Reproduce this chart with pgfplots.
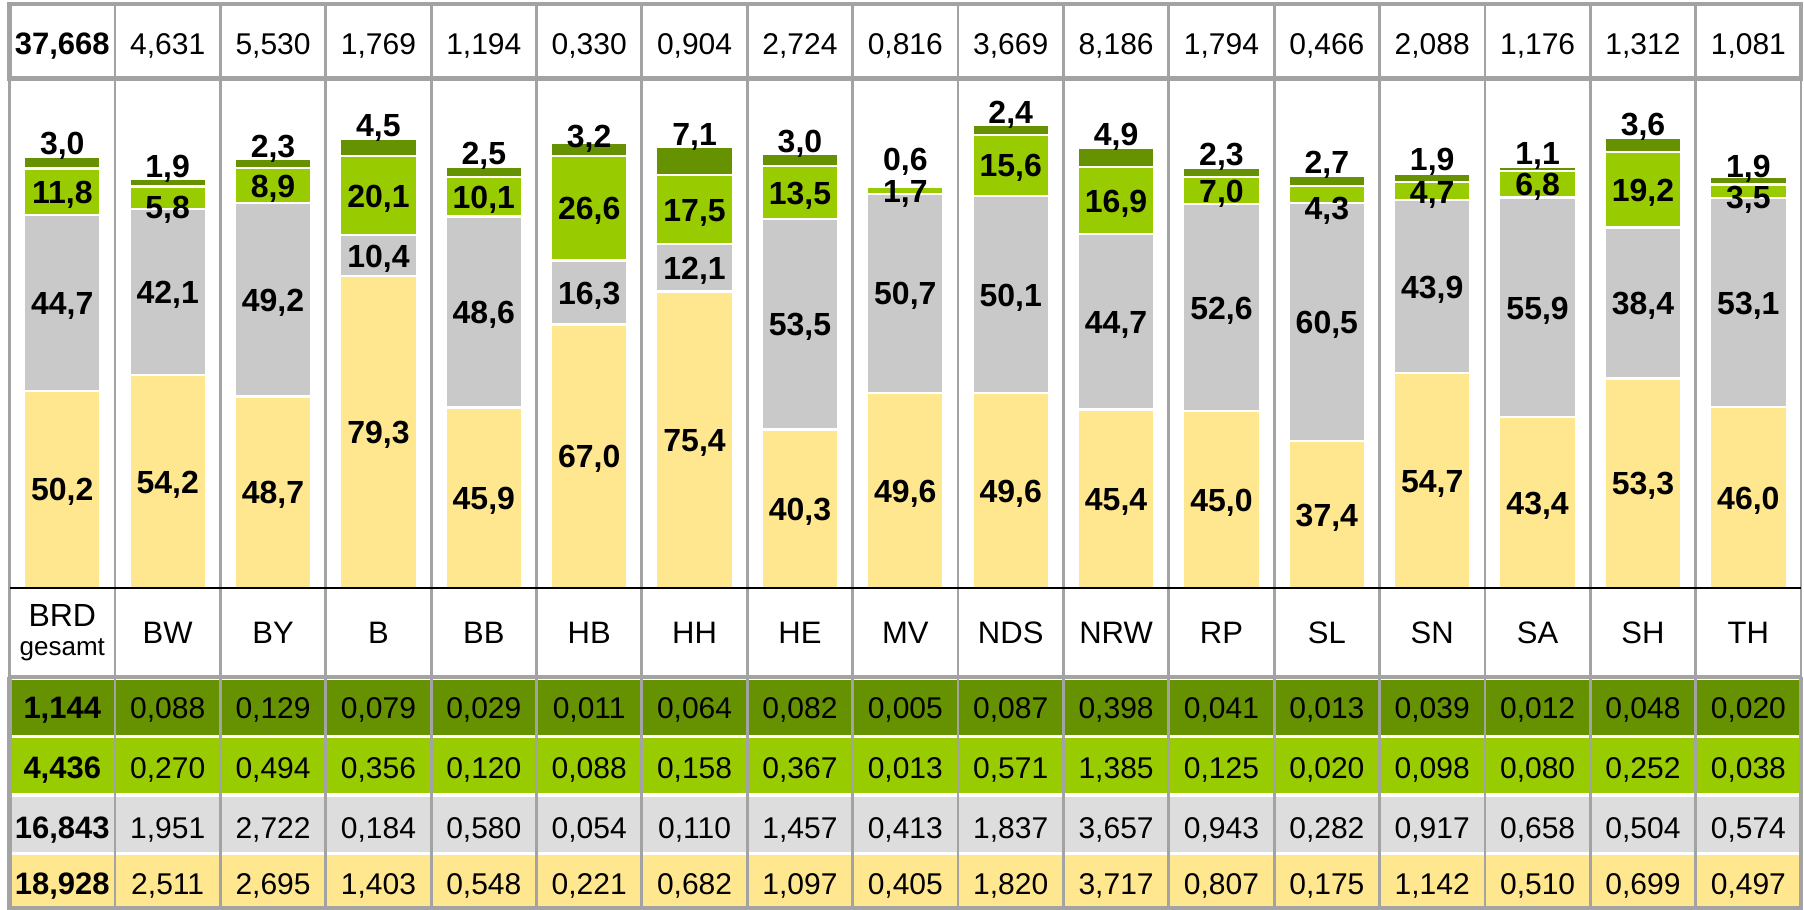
\documentclass[border=0pt]{standalone}
\usepackage{fontspec}
\setmainfont{Liberation Sans}
\usepackage{pgfplots}
\usepackage{pgfplotstable}
\pgfplotsset{compat=1.18}
\definecolor{cye}{HTML}{FFE78F}
\definecolor{cgr}{HTML}{C9C9C9}
\definecolor{clg}{HTML}{99CC00}
\definecolor{cdg}{HTML}{669100}
\definecolor{tgr}{HTML}{DDDDDD}
\definecolor{cline}{HTML}{A3A3A3}

\pgfplotstableread{
x lab tot dgA lgA grA yeA ye gr lg dg lgoff dgoff
0 {} 37.668 1.144 4.436 16.843 18.928 50.2 44.7 11.8 3.0 0 0
1 BW 4.631 0.088 0.270 1.951 2.511 54.2 42.1 5.8 1.9 -9 0
2 BY 5.530 0.129 0.494 2.722 2.695 48.7 49.2 8.9 2.3 0 0
3 B 1.769 0.079 0.356 0.184 1.403 79.3 10.4 20.1 4.5 0 0
4 BB 1.194 0.029 0.120 0.580 0.548 45.9 48.6 10.1 2.5 0 0
5 HB 0.330 0.011 0.088 0.054 0.221 67.0 16.3 26.6 3.2 0 -6
6 HH 0.904 0.064 0.158 0.110 0.682 75.4 12.1 17.5 7.1 0 0
7 HE 2.724 0.082 0.367 1.457 1.097 40.3 53.5 13.5 3.0 0 0
8 MV 0.816 0.005 0.013 0.413 0.405 49.6 50.7 1.7 0.6 -1 12
9 NDS 3.669 0.087 0.571 1.837 1.820 49.6 50.1 15.6 2.4 0 0
10 NRW 8.186 0.398 1.385 3.657 3.717 45.4 44.7 16.9 4.9 0 0
11 RP 1.794 0.041 0.125 0.943 0.807 45.0 52.6 7.0 2.3 0 0
12 SL 0.466 0.013 0.020 0.282 0.175 37.4 60.5 4.3 2.7 -13 0
13 SN 2.088 0.039 0.098 0.917 1.142 54.7 43.9 4.7 1.9 -1 2
14 SA 1.176 0.012 0.080 0.658 0.510 43.4 55.9 6.8 1.1 0 0
15 SH 1.312 0.048 0.252 0.504 0.699 53.3 38.4 19.2 3.6 0 0
16 TH 1.081 0.020 0.038 0.574 0.497 46.0 53.1 3.5 1.9 -5 -2
}\data

\pgfplotsset{
  myax/.style={scale only axis, width=902pt, height=455pt,
    xmin=-0.5911, xmax=16.528, ymin=-81.89, ymax=149.54,
    hide axis, clip=false},
  numfmt3/.style={nodes near coords={\pgfmathprintnumber[fixed,fixed zerofill,precision=3,use comma,assume math mode=true]{\pgfplotspointmeta}}},
  numfmt1/.style={nodes near coords={\pgfmathprintnumber[fixed,fixed zerofill,precision=1,use comma,assume math mode=true]{\pgfplotspointmeta}}},
  tabrow/.style={draw=none, mark=none, numfmt3, point meta=explicit,
    skip coords between index={0}{1},
    nodes near coords style={anchor=base, inner sep=0pt, text=black,
      font=\fontsize{15}{18}\selectfont}},
  tabrowb/.style={draw=none, mark=none, numfmt3, point meta=explicit,
    skip coords between index={1}{17},
    nodes near coords style={anchor=base, inner sep=0pt, text=black,
      font=\fontsize{15.5}{18}\selectfont\bfseries}},
  barlab/.style={draw=none, mark=none, numfmt1, point meta=explicit,
    nodes near coords style={anchor=base, inner sep=0pt, yshift=-5.8pt, text=black,
      font=\fontsize{16}{18}\selectfont\bfseries}},
}

\begin{document}
\begin{tikzpicture}
% bars
\begin{axis}[myax, name=ax, ybar stacked, bar width=0.726]
\addplot[fill=cye, draw=white, line width=1.1pt] table[x=x, y=ye]{\data};
\addplot[fill=cgr, draw=white, line width=1.1pt] table[x=x, y=gr]{\data};
\addplot[fill=clg, draw=white, line width=1.1pt] table[x=x, y=lg]{\data};
\addplot[fill=cdg, draw=white, line width=1.1pt] table[x=x, y=dg]{\data};
\end{axis}
% table parts, lines and labels
\begin{axis}[myax]
\fill[cdg] (axis cs:-0.5,-23.40) rectangle (axis cs:16.5,-37.39);
\fill[clg] (axis cs:-0.5,-38.15) rectangle (axis cs:16.5,-52.14);
\fill[tgr] (axis cs:-0.5,-53.15) rectangle (axis cs:16.5,-67.14);
\fill[cye] (axis cs:-0.5,-67.90) rectangle (axis cs:16.5,-81.89);
\pgfplotsinvokeforeach{-0.5,0.5,...,16.5}{
  \draw[cline, line width=1.4pt] (axis cs:#1,148.52) -- (axis cs:#1,-81.89);
}
\draw[cline, line width=2.2pt] (axis cs:-0.5,148.52) rectangle (axis cs:16.5,129.58);
\draw[cline, line width=2.2pt] (axis cs:-0.5,-22.63) -- (axis cs:16.5,-22.63);
\draw[cline, line width=2.4pt] (axis cs:-0.5,-22.63) -- (axis cs:-0.5,-81.89);
\draw[cline, line width=2.4pt] (axis cs:16.5,-22.63) -- (axis cs:16.5,-81.89);
\draw[cline, line width=2.4pt] (axis cs:-0.5,-81.5) -- (axis cs:16.5,-81.5);
\draw[black, line width=1.2pt] (axis cs:-0.5,0) -- (axis cs:16.5,0);
% top row totals
\addplot[tabrow] table[x=x, y expr=135.73, meta=tot]{\data};
\addplot[tabrowb] table[x=x, y expr=135.73, meta=tot]{\data};
% category names
\addplot[draw=none, mark=none, nodes near coords, point meta=explicit symbolic,
  skip coords between index={0}{1},
  nodes near coords style={anchor=base, inner sep=0pt, text=black, font=\fontsize{15.5}{18}\selectfont}]
  table[x=x, y expr=-13.99, meta=lab]{\data};
\node[anchor=base, inner sep=0pt, font=\fontsize{16}{18}\selectfont] at (axis cs:0,-9.84) {BRD};
\node[anchor=base, inner sep=0pt, font=\fontsize{13}{15}\selectfont] at (axis cs:0,-17.29) {gesamt};
% bottom table
\addplot[tabrow] table[x=x, y expr=-33.1, meta=dgA]{\data};
\addplot[tabrowb] table[x=x, y expr=-33.1, meta=dgA]{\data};
\addplot[tabrow] table[x=x, y expr=-48.4, meta=lgA]{\data};
\addplot[tabrowb] table[x=x, y expr=-48.4, meta=lgA]{\data};
\addplot[tabrow] table[x=x, y expr=-63.6, meta=grA]{\data};
\addplot[tabrowb] table[x=x, y expr=-63.6, meta=grA]{\data};
\addplot[tabrow] table[x=x, y expr=-78.0, meta=yeA]{\data};
\addplot[tabrowb] table[x=x, y expr=-78.0, meta=yeA]{\data};
% bar labels
\addplot[barlab] table[x=x, y expr=\thisrow{ye}/2, meta=ye]{\data};
\addplot[barlab] table[x=x, y expr=\thisrow{ye}+\thisrow{gr}/2, meta=gr]{\data};
\addplot[barlab] table[x=x, y expr=\thisrow{ye}+\thisrow{gr}+\thisrow{lg}/2+\thisrow{lgoff}/3.932, meta=lg]{\data};
\addplot[barlab, nodes near coords style={yshift=5.8pt}] table[x=x, y expr=\thisrow{ye}+\thisrow{gr}+\thisrow{lg}+\thisrow{dg}+(\thisrow{dgoff}+2)/3.932, meta=dg]{\data};
\end{axis}
\pgfresetboundingbox
\path (ax.south west) rectangle (ax.north east);
\end{tikzpicture}
\end{document}
